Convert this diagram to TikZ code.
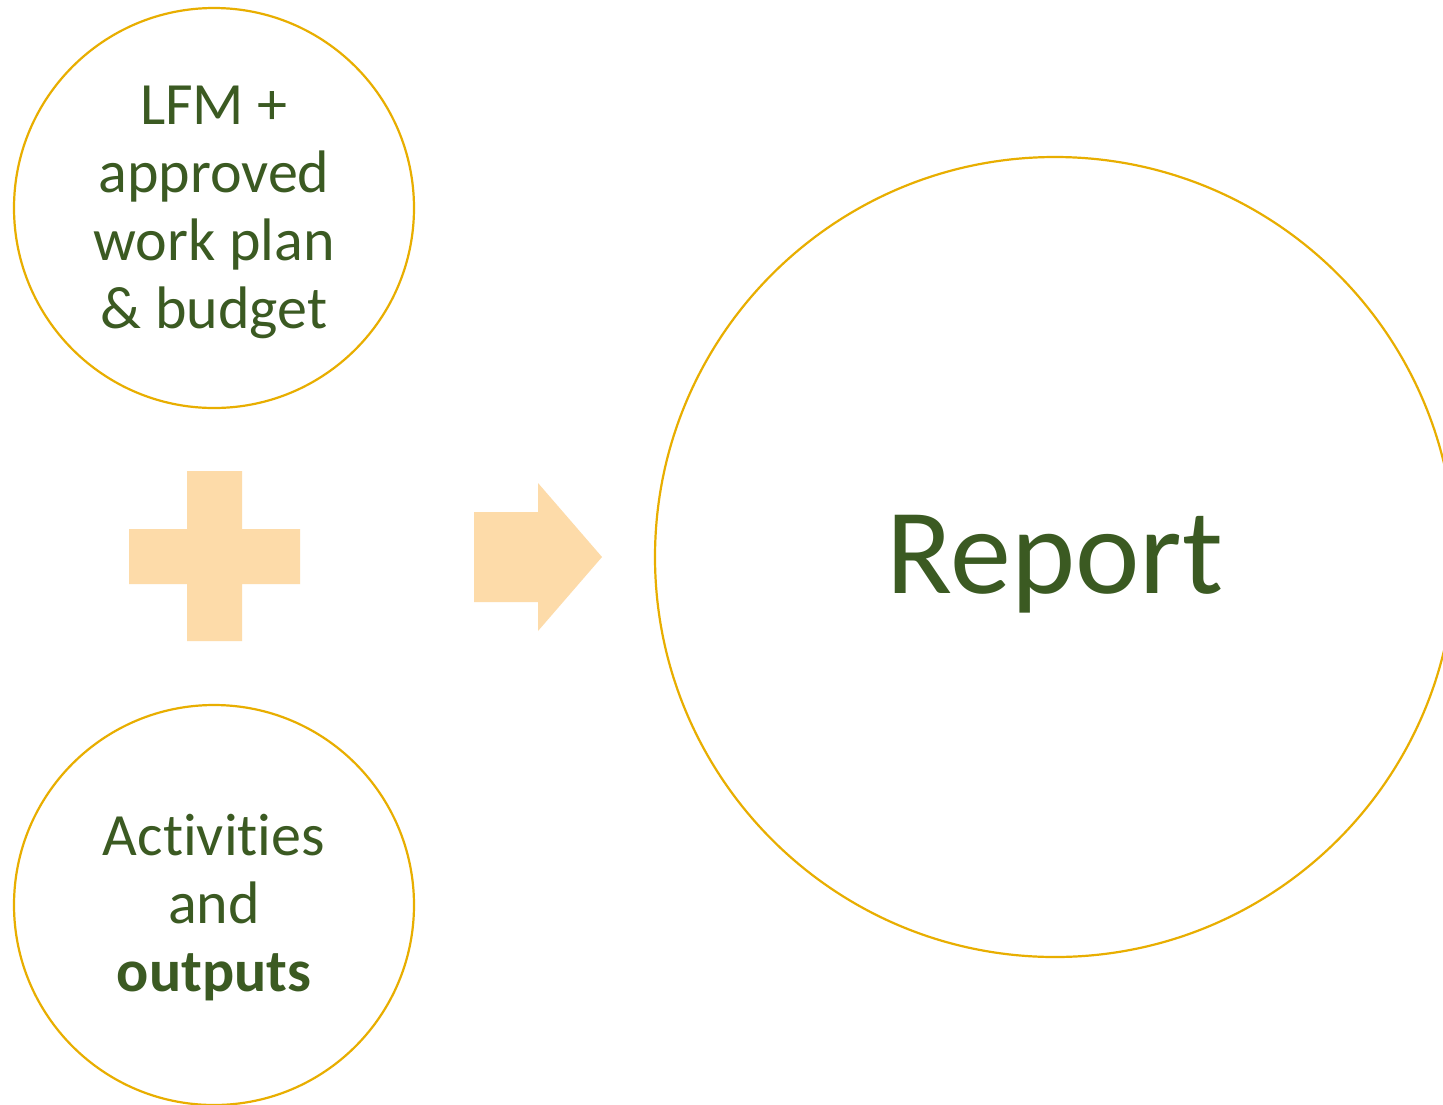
\documentclass[tikz,border=0pt]{standalone}
\usepackage{fontspec}
\setmainfont{Carlito}[Ligatures=NoCommon]
\definecolor{ringgold}{HTML}{E8AE00}
\definecolor{txtgreen}{HTML}{3B5A22}
\definecolor{peach}{HTML}{FDDBA9}
\begin{document}
\begin{tikzpicture}[x=1pt,y=-1pt,
  ring/.style={circle,draw=ringgold,line width=2.2pt,inner sep=0pt},
  smallring/.style={ring,minimum size=400pt},
  bigring/.style={ring,minimum size=800pt},
  smalltext/.style={text=txtgreen,align=center,inner sep=0pt,font=\fontsize{60}{68}\selectfont},
  bigtext/.style={text=txtgreen,align=center,inner sep=0pt,font=\fontsize{122}{140}\selectfont},
  shapefill/.style={fill=peach,draw=none}]
\useasboundingbox (0,0) rectangle (1443,1104);
\fill[white] (0,0) rectangle (1443,1104);
\node[smallring] (plan) at (214,208) {};
\node[smallring] (act) at (214,905) {};
\node[bigring] (rep) at (1055,557) {};
\node[smalltext] (plantext) at ([yshift=-4pt]plan.center) {LFM +\\approved\\work plan\\\& budget};
\node[smalltext] (acttext) at ([yshift=-3pt]act.center) {Activities\\and\\\textbf{outputs}};
\node[bigtext] (reptext) at ([yshift=-7pt]rep.center) {Report};
% plus sign
\path[shapefill] (187,471) -- (242,471) -- (242,529) -- (300,529) -- (300,584) -- (242,584)
  -- (242,641) -- (187,641) -- (187,584) -- (129,584) -- (129,529) -- (187,529) -- cycle;
% block arrow
\path[shapefill] (474,512) -- (538,512) -- (538,483) -- (602,557) -- (538,631) -- (538,602)
  -- (474,602) -- cycle;
\end{tikzpicture}
\end{document}
